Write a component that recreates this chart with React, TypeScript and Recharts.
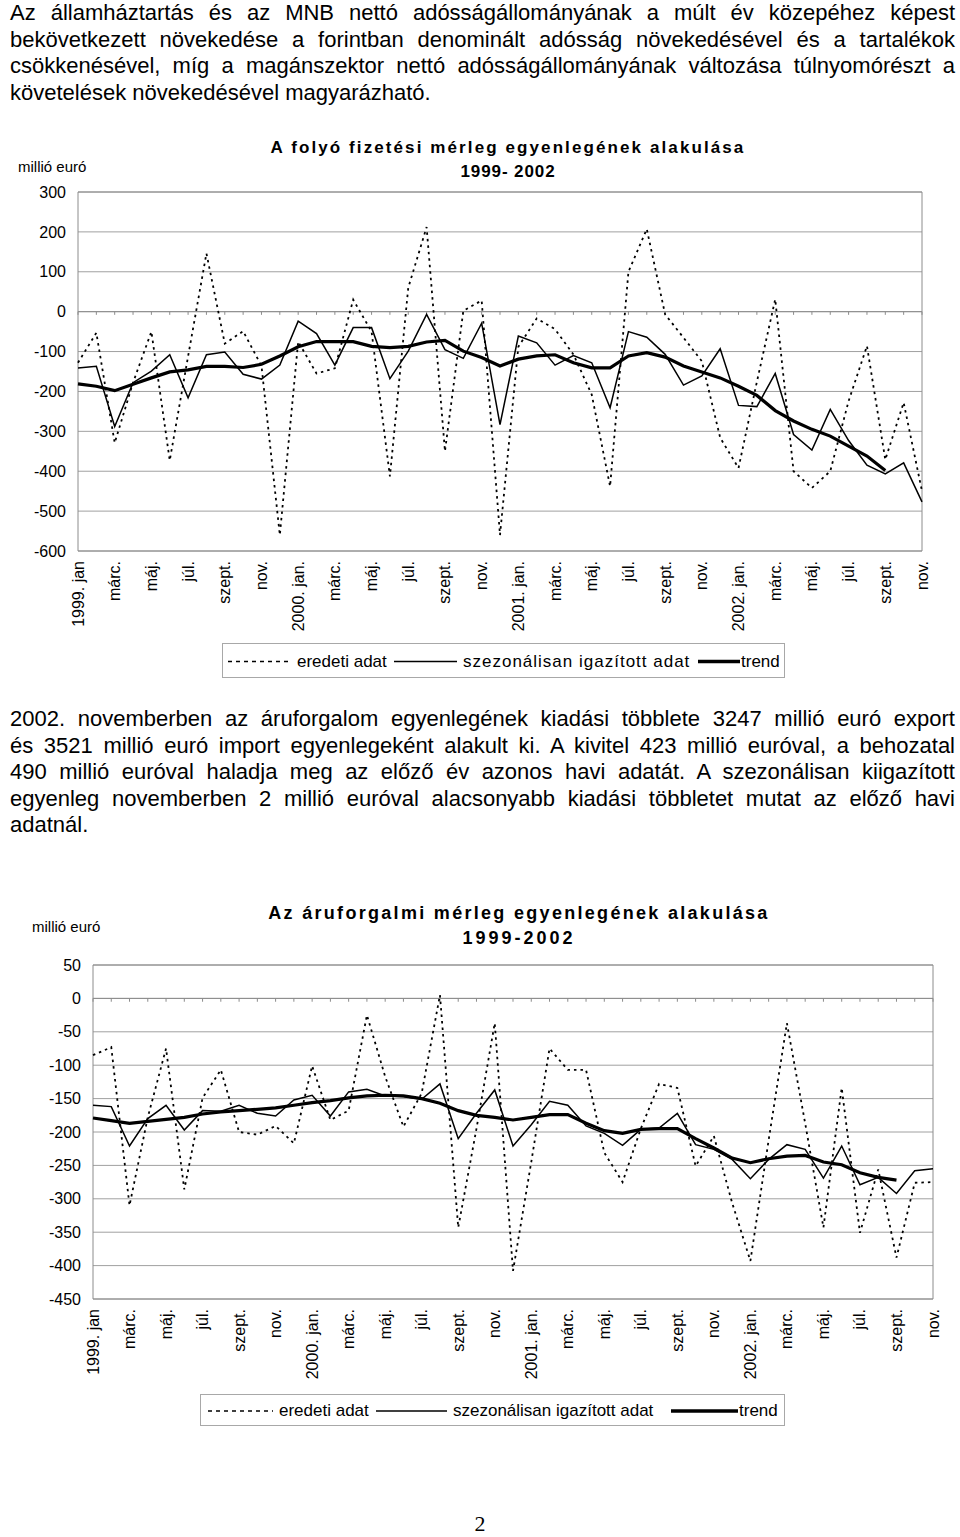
import React from 'react';
import {
  LineChart, Line, XAxis, YAxis, CartesianGrid, ReferenceLine, ReferenceArea,
} from 'recharts';

const FONT = '"Liberation Sans", Arial, sans-serif';

// months 1999. jan – 2002. nov.
const periods = [
  '1999. jan', '1999. febr.', '1999. márc.', '1999. ápr.', '1999. máj.', '1999. jún.',
  '1999. júl.', '1999. aug.', '1999. szept.', '1999. okt.', '1999. nov.', '1999. dec.',
  '2000. jan.', '2000. febr.', '2000. márc.', '2000. ápr.', '2000. máj.', '2000. jún.',
  '2000. júl.', '2000. aug.', '2000. szept.', '2000. okt.', '2000. nov.', '2000. dec.',
  '2001. jan.', '2001. febr.', '2001. márc.', '2001. ápr.', '2001. máj.', '2001. jún.',
  '2001. júl.', '2001. aug.', '2001. szept.', '2001. okt.', '2001. nov.', '2001. dec.',
  '2002. jan.', '2002. febr.', '2002. márc.', '2002. ápr.', '2002. máj.', '2002. jún.',
  '2002. júl.', '2002. aug.', '2002. szept.', '2002. okt.', '2002. nov.',
];

const tickLabels = [
  '1999. jan', 'márc.', 'máj.', 'júl.', 'szept.', 'nov.',
  '2000. jan.', 'márc.', 'máj.', 'júl.', 'szept.', 'nov.',
  '2001. jan.', 'márc.', 'máj.', 'júl.', 'szept.', 'nov.',
  '2002. jan.', 'márc.', 'máj.', 'júl.', 'szept.', 'nov.',
];

// folyó fizetési mérleg (millió euró)
const currentOriginal = [
  -128, -53, -329, -178, -50, -373, -112, 146, -80, -49, -136, -560,
  -75, -155, -142, 30, -50, -413, 60, 212, -350, 2, 28, -560,
  -88, -17, -44, -107, -208, -438, 100, 207, -7, -65, -124, -316,
  -392, -176, 31, -400, -442, -400, -224, -86, -371, -228, -450,
];
const currentAdjusted = [
  -141, -137, -288, -178, -149, -108, -216, -108, -101, -157, -169, -134,
  -24, -55, -134, -40, -40, -168, -99, -7, -95, -117, -29, -283,
  -61, -78, -134, -110, -128, -241, -50, -64, -107, -184, -161, -93,
  -235, -238, -155, -308, -347, -245, -323, -385, -407, -379, -477,
];
const currentTrend = [
  -181, -187, -198, -182, -166, -151, -146, -137, -137, -140, -132, -111,
  -88, -75, -75, -75, -87, -90, -87, -76, -72, -99, -115, -136,
  -119, -111, -108, -128, -141, -141, -111, -103, -114, -136, -151, -166,
  -187, -210, -248, -274, -295, -312, -337, -362, -398, null, null,
];
const currentTicks = [300, 200, 100, 0, -100, -200, -300, -400, -500, -600];

// áruforgalmi mérleg (millió euró)
const tradeOriginal = [
  -85, -73, -310, -178, -75, -286, -149, -107, -200, -204, -191, -217,
  -101, -182, -168, -25, -117, -192, -142, 5, -343, -195, -37, -408,
  -245, -75, -107, -107, -231, -275, -195, -128, -134, -251, -206, -306,
  -393, -212, -37, -187, -343, -134, -351, -256, -388, -276, -275,
];
const tradeAdjusted = [
  -160, -162, -221, -180, -160, -197, -168, -169, -160, -172, -176, -152,
  -145, -176, -140, -136, -146, -147, -151, -128, -210, -172, -137, -221,
  -189, -154, -160, -191, -202, -220, -196, -194, -172, -219, -226, -241,
  -270, -241, -219, -226, -269, -221, -279, -268, -292, -258, -255,
];
const tradeTrend = [
  -179, -183, -187, -184, -181, -178, -173, -170, -168, -166, -164, -160,
  -156, -153, -149, -146, -145, -146, -150, -157, -168, -175, -178, -182,
  -178, -174, -174, -187, -198, -202, -196, -195, -195, -210, -224, -239,
  -246, -240, -236, -235, -245, -249, -261, -268, -272, null, null,
];
const tradeTicks = [50, 0, -50, -100, -150, -200, -250, -300, -350, -400, -450];

const introLines = [
  'Az államháztartás és az MNB nettó adósságállományának a múlt év közepéhez képest',
  'bekövetkezett növekedése a forintban denominált adósság növekedésével és a tartalékok',
  'csökkenésével, míg a magánszektor nettó adósságállományának változása túlnyomórészt a',
  'követelések növekedésével magyarázható.',
];
const middleLines = [
  '2002. novemberben az áruforgalom egyenlegének kiadási többlete 3247 millió euró export',
  'és 3521 millió euró import egyenlegeként alakult ki. A kivitel 423 millió euróval, a behozatal',
  '490 millió euróval haladja meg az előző év azonos havi adatát. A szezonálisan kiigazított',
  'egyenleg novemberben 2 millió euróval alacsonyabb kiadási többletet mutat az előző havi',
  'adatnál.',
];

const tickLabelByPeriod = new Map(
  periods.filter((_, i) => i % 2 === 0).map((p, k) => [p, tickLabels[k]]),
);

const currentData = periods.map((p, i) => ({
  period: p, orig: currentOriginal[i], sa: currentAdjusted[i], trend: currentTrend[i],
}));
const tradeData = periods.map((p, i) => ({
  period: p, orig: tradeOriginal[i], sa: tradeAdjusted[i], trend: tradeTrend[i],
}));

function MonthTick({ x, y, payload }: any) {
  const label = tickLabelByPeriod.get(payload.value) ?? '';
  return (
    <text
      x={x} y={y}
      transform={`rotate(-90, ${x}, ${y})`}
      textAnchor="end"
      dominantBaseline="central"
      fontSize={16}
      fontFamily={FONT}
      fill="#000"
    >
      {label}
    </text>
  );
}

function Paragraph({ lines, top }: { lines: string[]; top: number }) {
  return (
    <div style={{ position: 'absolute', left: 10, top, width: 945, fontSize: 22, lineHeight: '26.6px' }}>
      {lines.map((l, i) => (
        <div
          key={i}
          style={{
            whiteSpace: 'nowrap',
            textAlign: i < lines.length - 1 ? 'justify' : 'left',
            textAlignLast: i < lines.length - 1 ? 'justify' : 'left',
          }}
        >
          {l}
        </div>
      ))}
    </div>
  );
}

// x offsets inside the legend box: dashed sample, its text, thin sample, its text, thick sample, its text
function LegendBox({ left, top, width, height, pos, spacing }: {
  left: number; top: number; width: number; height: number; pos: number[]; spacing: number;
}) {
  const item = (x: number): React.CSSProperties => ({ position: 'absolute', left: x, top: 0, height, lineHeight: `${height}px`, whiteSpace: 'nowrap' });
  const mid = height / 2;
  return (
    <div style={{ position: 'absolute', left, top, width, height, border: '1px solid #a8a8a8', fontSize: 17, boxSizing: 'border-box' }}>
      <svg style={item(pos[0])} width={pos[1] - pos[0] - 6} height={height}>
        <line x1={0} x2={pos[1] - pos[0] - 6} y1={mid} y2={mid} stroke="#000" strokeWidth={1.5} strokeDasharray="4 4" />
      </svg>
      <span style={item(pos[1])}>eredeti adat</span>
      <svg style={item(pos[2])} width={pos[3] - pos[2] - 6} height={height}>
        <line x1={0} x2={pos[3] - pos[2] - 6} y1={mid} y2={mid} stroke="#000" strokeWidth={1.3} />
      </svg>
      <span style={{ ...item(pos[3]), letterSpacing: spacing }}>szezonálisan igazított adat</span>
      <svg style={item(pos[4])} width={pos[5] - pos[4] - 1} height={height}>
        <line x1={0} x2={pos[5] - pos[4] - 1} y1={mid} y2={mid} stroke="#000" strokeWidth={3.5} />
      </svg>
      <span style={item(pos[5])}>trend</span>
    </div>
  );
}

function BalanceChart({
  data, ticks, top, width, height, margin, zeroTick,
}: {
  data: any[]; ticks: number[]; top: number; width: number; height: number;
  margin: { top: number; right: number; bottom: number; left: number }; zeroTick: number;
}) {
  const yMax = ticks[0];
  const yMin = ticks[ticks.length - 1];
  return (
    <div style={{ position: 'absolute', left: 0, top }}>
      <LineChart width={width} height={height} data={data} margin={margin}>
        <CartesianGrid vertical={false} stroke="#a0a0a0" strokeWidth={1} />
        <ReferenceArea
          x1={periods[0]} x2={periods[periods.length - 1]} y1={yMin} y2={yMax}
          ifOverflow="visible"
          fill="none" fillOpacity={0} stroke="#8c8c8c" strokeWidth={1}
        />
        <ReferenceLine y={0} stroke="#8c8c8c" strokeWidth={1} ifOverflow="visible" />
        {periods.map((p) => (
          <ReferenceLine
            key={p}
            segment={[{ x: p, y: 0 }, { x: p, y: zeroTick }]}
            ifOverflow="visible"
            stroke="#8c8c8c"
            strokeWidth={1}
          />
        ))}
        <XAxis
          dataKey="period"
          interval={0}
          height={80}
          axisLine={false}
          tickLine={false}
          tickMargin={4}
          tick={<MonthTick />}
        />
        <YAxis
          domain={[yMin, yMax]}
          ticks={ticks}
          interval={0}
          width={60}
          axisLine={false}
          tickLine={false}
          tickMargin={6}
          tick={{ fontSize: 16, fill: '#000', fontFamily: FONT }}
        />
        <Line type="linear" dataKey="orig" stroke="#000" strokeWidth={1.8} strokeDasharray="2.5 4" dot={false} activeDot={false} isAnimationActive={false} />
        <Line type="linear" dataKey="sa" stroke="#000" strokeWidth={1.5} dot={false} activeDot={false} isAnimationActive={false} />
        <Line type="linear" dataKey="trend" stroke="#000" strokeWidth={3.2} dot={false} activeDot={false} isAnimationActive={false} />
      </LineChart>
    </div>
  );
}

export default function App() {
  return (
    <div style={{ position: 'absolute', left: 0, top: 0, width: 960, height: 1537, background: '#fff', fontFamily: FONT, color: '#000' }}>
      <Paragraph lines={introLines} top={0} />

      <div style={{ position: 'absolute', left: 18, top: 158, fontSize: 15 }}>millió euró</div>
      <div style={{ position: 'absolute', left: 208, width: 600, top: 136, textAlign: 'center', fontSize: 17, fontWeight: 'bold', lineHeight: '24px' }}>
        <div style={{ letterSpacing: 2.1 }}>A folyó fizetési mérleg egyenlegének alakulása</div>
        <div style={{ letterSpacing: 0.9 }}>1999- 2002</div>
      </div>
      <BalanceChart
        data={currentData}
        ticks={currentTicks}
        top={130}
        width={960}
        height={560}
        margin={{ top: 62, right: 38, bottom: 59, left: 18 }}
        zeroTick={-8}
      />
      <LegendBox left={222} top={643} width={563} height={35} pos={[5, 74, 171, 240, 475, 518]} spacing={1} />

      <Paragraph lines={middleLines} top={706} />

      <div style={{ position: 'absolute', left: 32, top: 918, fontSize: 15 }}>millió euró</div>
      <div style={{ position: 'absolute', left: 219, width: 600, top: 901, textAlign: 'center', fontSize: 18, fontWeight: 'bold', lineHeight: '25px' }}>
        <div style={{ letterSpacing: 2.3 }}>Az áruforgalmi mérleg egyenlegének alakulása</div>
        <div style={{ letterSpacing: 3 }}>1999-2002</div>
      </div>
      <BalanceChart
        data={tradeData}
        ticks={tradeTicks}
        top={900}
        width={960}
        height={500}
        margin={{ top: 65, right: 27, bottom: 21, left: 33 }}
        zeroTick={-5}
      />
      <LegendBox left={200} top={1394} width={585} height={32} pos={[7, 78, 175, 252, 470, 538]} spacing={0} />

      <div style={{ position: 'absolute', left: 0, width: 960, top: 1511, textAlign: 'center', fontFamily: '"Liberation Serif", "Times New Roman", serif', fontSize: 22 }}>2</div>
    </div>
  );
}
